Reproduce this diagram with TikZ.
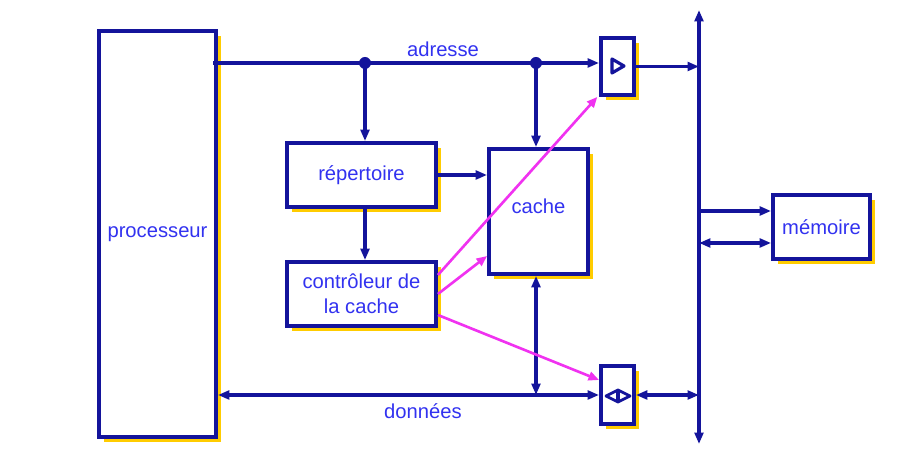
\documentclass[tikz,border=0pt]{standalone}
\usepackage{fontspec}
\setmainfont{Liberation Sans}
\usepackage{xcolor}
\usetikzlibrary{arrows.meta,shadows}
\definecolor{navy}{RGB}{20,20,155}
\definecolor{txtblue}{RGB}{50,50,240}
\definecolor{shadowyellow}{RGB}{255,204,0}
\definecolor{ctrlpink}{RGB}{240,50,240}
\tikzset{
  bloc/.style={draw=navy, line width=2.2pt, fill=white, inner sep=0pt,
    text=txtblue, font=\fontsize{11.5}{14}\selectfont, align=center,
    drop shadow={shadow xshift=0.1cm, shadow yshift=-0.1cm, fill=shadowyellow, opacity=1}},
  bus/.style={navy, line width=2pt},
  ctrl/.style={ctrlpink, line width=1.5pt, -{Triangle[length=6pt,width=5pt]}},
  tip/.style={-{Triangle[length=6.5pt,width=5pt]}},
  tips/.style={{Triangle[length=6.5pt,width=5pt]}-{Triangle[length=6.5pt,width=5pt]}},
  lab/.style={text=txtblue, font=\fontsize{11.5}{14}\selectfont}
}
\begin{document}
\begin{tikzpicture}[x=0.02cm,y=-0.02cm]
   \useasboundingbox (0,0) rectangle (897,462);
   % blocs
   \node[bloc, minimum width=2.34cm, minimum height=8.12cm] (proc) at (157.5,234) {processeur};
   \node[bloc, minimum width=2.98cm, minimum height=1.28cm] (rep) at (361.5,175) {répertoire};
   \node[bloc, minimum width=2.98cm, minimum height=1.28cm] (ctl) at (361.5,294) {contrôleur de\\la cache};
   \node[bloc, minimum width=1.98cm, minimum height=2.5cm] (cache) at (538.5,211.5) {\raisebox{2mm}{cache}};
   \node[bloc, minimum width=1.94cm, minimum height=1.28cm] (mem) at (821.5,227) {mémoire};
   \node[bloc, minimum width=0.66cm, minimum height=1.14cm] (tsA) at (617.5,66.5) {};
   \node[bloc, minimum width=0.66cm, minimum height=1.16cm] (tsB) at (617.5,395) {};
   % symboles des portes
   \draw[navy, line width=1.8pt, line join=round] (612,59) -- (624,66) -- (612,73) -- cycle;
   \draw[navy, line width=1.6pt, line join=round] (606,396) -- (618,390) -- (630,396) -- (618,402) -- cycle;
   \draw[navy, line width=2.6pt] (618,391) -- (618,401);
   % bus systeme
   \coordinate (bt) at (699,10);
   \coordinate (bb) at (699,444);
   \draw[bus, tips] (bb) -- (bt);
   % adresse
   \coordinate (j1) at (365,63);
   \coordinate (j2) at (536,63);
   \draw[bus] (213,63) -- (j1) -- (j2);
   \draw[bus, tip] (j2) -- (tsA.west |- j2);
   \fill[navy] (j1) circle (0.12cm) (j2) circle (0.12cm);
   \node[lab] (adr) at (443,49) {adresse};
   \draw[bus, tip] (j1) -- (j1 |- rep.north);
   \draw[bus, tip] (j2) -- (j2 |- cache.north);
   \draw[bus, tip] (tsA.east) -- (bt |- tsA.east);
   \draw[bus, tip] (rep.east) -- (rep.east -| cache.west);
   \draw[bus, tip] (j1 |- rep.south) -- (j1 |- ctl.north);
   % donnees
   \draw[bus, tips] (proc.east |- tsB.west) -- (tsB.west);
   \draw[bus, tips] (j2 |- cache.south) -- (j2 |- tsB.west);
   \draw[bus, tips] (tsB.east) -- (bt |- tsB.east);
   \node[lab] (don) at (423,411) {données};
   % memoire
   \draw[bus, tip] (bt |- 0,211) -- ([yshift=0.32cm]mem.west);
   \draw[bus, tips] (bt |- 0,243) -- ([yshift=-0.32cm]mem.west);
   % commandes
   \draw[ctrl] ([yshift=0.38cm]ctl.east) -- ([xshift=-1pt]tsA.south west);
   \draw[ctrl] (ctl.east) -- ([yshift=-0.89cm]cache.west);
   \draw[ctrl] ([yshift=-0.42cm]ctl.east) -- ([yshift=0.3cm]tsB.west);
\end{tikzpicture}
\end{document}
